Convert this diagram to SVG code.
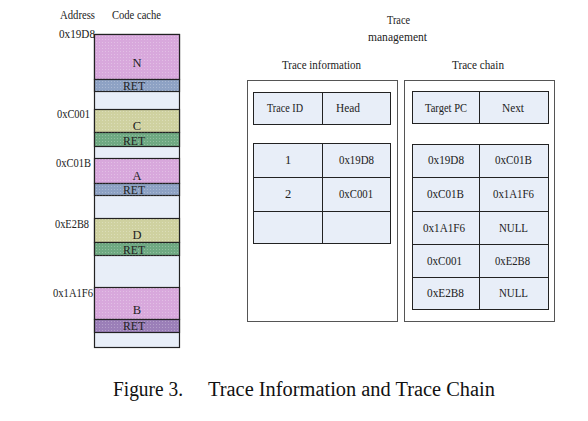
<svg xmlns="http://www.w3.org/2000/svg" width="588" height="421" viewBox="0 0 588 421">
<defs>
<pattern id="dots" width="3" height="3" patternUnits="userSpaceOnUse"><rect width="1" height="1" fill="#ffffff" fill-opacity="0.25"/></pattern>
</defs>
<style>
text{font-family:"Liberation Serif","Times New Roman",serif;font-size:12.5px;fill:#222}
.c{text-anchor:middle}
.blk{stroke:#222;stroke-width:1.2}
.pink{fill:#d8a8dc}
.olive{fill:#cfd1a0}
.blue{fill:#8ea2c4}
.green{fill:#6fa982}
.purple{fill:#9b7fb8}
.cell{fill:#e8eef8;stroke:#222;stroke-width:1}
.panel{fill:#fff;stroke:#555;stroke-width:1}
.cap{font-size:20px;fill:#111}
</style>
<rect width="588" height="421" fill="#fff"/>
<text x="60" y="19" textLength="35" lengthAdjust="spacingAndGlyphs">Address</text>
<text x="112" y="19" textLength="49" lengthAdjust="spacingAndGlyphs">Code cache</text>
<g id="codecache">
<rect x="94.5" y="34.5" width="85" height="313" fill="#e8eef8" class="blk"/>
<g id="blockN"><rect x="94.5" y="34.5" width="85" height="45" class="pink blk"/><rect x="94.5" y="34.5" width="85" height="45" fill="url(#dots)"/>
<rect x="94.5" y="79.5" width="85" height="12" class="blue blk"/><rect x="94.5" y="79.5" width="85" height="12" fill="url(#dots)"/>
<text x="137" y="67" class="c">N</text><text x="123" y="90" textLength="22" lengthAdjust="spacingAndGlyphs">RET</text></g>
<g id="blockC"><rect x="94.5" y="109.5" width="85" height="23" class="olive blk"/><rect x="94.5" y="109.5" width="85" height="23" fill="url(#dots)"/>
<rect x="94.5" y="132.5" width="85" height="14" class="green blk"/><rect x="94.5" y="132.5" width="85" height="14" fill="url(#dots)"/>
<text x="137" y="130" class="c">C</text><text x="123" y="145" textLength="22" lengthAdjust="spacingAndGlyphs">RET</text></g>
<g id="blockA"><rect x="94.5" y="158.5" width="85" height="25" class="pink blk"/><rect x="94.5" y="158.5" width="85" height="25" fill="url(#dots)"/>
<rect x="94.5" y="183.5" width="85" height="12" class="blue blk"/><rect x="94.5" y="183.5" width="85" height="12" fill="url(#dots)"/>
<text x="137" y="180" class="c">A</text><text x="123" y="194" textLength="22" lengthAdjust="spacingAndGlyphs">RET</text></g>
<g id="blockD"><rect x="94.5" y="218.5" width="85" height="24" class="olive blk"/><rect x="94.5" y="218.5" width="85" height="24" fill="url(#dots)"/>
<rect x="94.5" y="242.5" width="85" height="13" class="green blk"/><rect x="94.5" y="242.5" width="85" height="13" fill="url(#dots)"/>
<text x="137" y="239" class="c">D</text><text x="123" y="254" textLength="22" lengthAdjust="spacingAndGlyphs">RET</text></g>
<g id="blockB"><rect x="94.5" y="287.5" width="85" height="32" class="pink blk"/><rect x="94.5" y="287.5" width="85" height="32" fill="url(#dots)"/>
<rect x="94.5" y="319.5" width="85" height="13" class="purple blk"/><rect x="94.5" y="319.5" width="85" height="13" fill="url(#dots)"/>
<text x="137" y="314" class="c">B</text><text x="123" y="330" textLength="22" lengthAdjust="spacingAndGlyphs">RET</text></g>
</g>
<g id="addresses">
<text x="59" y="38" textLength="36" lengthAdjust="spacingAndGlyphs">0x19D8</text>
<text x="57" y="118" textLength="33" lengthAdjust="spacingAndGlyphs">0xC001</text>
<text x="56" y="167" textLength="35" lengthAdjust="spacingAndGlyphs">0xC01B</text>
<text x="55" y="228" textLength="34" lengthAdjust="spacingAndGlyphs">0xE2B8</text>
<text x="53" y="297" textLength="40" lengthAdjust="spacingAndGlyphs">0x1A1F6</text>
</g>
<text x="387" y="24" textLength="23" lengthAdjust="spacingAndGlyphs">Trace</text>
<text x="368" y="41" textLength="59" lengthAdjust="spacingAndGlyphs">management</text>
<text x="282" y="69" textLength="79" lengthAdjust="spacingAndGlyphs">Trace information</text>
<text x="452" y="69" textLength="52" lengthAdjust="spacingAndGlyphs">Trace chain</text>
<g id="traceinfo">
<rect x="247.5" y="80.5" width="150" height="241" class="panel"/>
<rect x="253.5" y="92.5" width="69" height="32" class="cell"/><rect x="322.5" y="92.5" width="68" height="32" class="cell"/>
<text x="267" y="112" textLength="36" lengthAdjust="spacingAndGlyphs">Trace ID</text><text x="336" y="112" textLength="24" lengthAdjust="spacingAndGlyphs">Head</text>
<rect x="253.5" y="143.5" width="69" height="34" class="cell"/><rect x="322.5" y="143.5" width="68" height="34" class="cell"/>
<text x="288" y="164" class="c">1</text><text x="339" y="164" textLength="35" lengthAdjust="spacingAndGlyphs">0x19D8</text>
<rect x="253.5" y="177.5" width="69" height="34" class="cell"/><rect x="322.5" y="177.5" width="68" height="34" class="cell"/>
<text x="288" y="198" class="c">2</text><text x="339" y="198" textLength="34" lengthAdjust="spacingAndGlyphs">0xC001</text>
<rect x="253.5" y="211.5" width="69" height="32" class="cell"/><rect x="322.5" y="211.5" width="68" height="32" class="cell"/>
</g>
<g id="tracechain">
<rect x="404.5" y="80.5" width="150" height="241" class="panel"/>
<rect x="412.5" y="91.5" width="67" height="32" class="cell"/><rect x="479.5" y="91.5" width="69" height="32" class="cell"/>
<text x="425" y="112" textLength="42" lengthAdjust="spacingAndGlyphs">Target PC</text><text x="502" y="112" textLength="22" lengthAdjust="spacingAndGlyphs">Next</text>
<rect x="412.5" y="144.5" width="67" height="33" class="cell"/><rect x="479.5" y="144.5" width="69" height="33" class="cell"/>
<text x="428" y="164" textLength="36" lengthAdjust="spacingAndGlyphs">0x19D8</text><text x="495" y="164" textLength="37" lengthAdjust="spacingAndGlyphs">0xC01B</text>
<rect x="412.5" y="177.5" width="67" height="34" class="cell"/><rect x="479.5" y="177.5" width="69" height="34" class="cell"/>
<text x="427" y="198" textLength="37" lengthAdjust="spacingAndGlyphs">0xC01B</text><text x="493" y="198" textLength="41" lengthAdjust="spacingAndGlyphs">0x1A1F6</text>
<rect x="412.5" y="211.5" width="67" height="33" class="cell"/><rect x="479.5" y="211.5" width="69" height="33" class="cell"/>
<text x="423" y="232" textLength="42" lengthAdjust="spacingAndGlyphs">0x1A1F6</text><text x="499" y="232" textLength="29" lengthAdjust="spacingAndGlyphs">NULL</text>
<rect x="412.5" y="244.5" width="67" height="33" class="cell"/><rect x="479.5" y="244.5" width="69" height="33" class="cell"/>
<text x="427" y="265" textLength="35" lengthAdjust="spacingAndGlyphs">0xC001</text><text x="495" y="265" textLength="35" lengthAdjust="spacingAndGlyphs">0xE2B8</text>
<rect x="412.5" y="277.5" width="67" height="32" class="cell"/><rect x="479.5" y="277.5" width="69" height="32" class="cell"/>
<text x="427" y="297" textLength="37" lengthAdjust="spacingAndGlyphs">0xE2B8</text><text x="499" y="297" textLength="29" lengthAdjust="spacingAndGlyphs">NULL</text>
</g>
<text x="113" y="396" class="cap" textLength="70" lengthAdjust="spacingAndGlyphs">Figure 3.</text>
<text x="208" y="396" class="cap" textLength="287" lengthAdjust="spacingAndGlyphs">Trace Information and Trace Chain</text>
</svg>
